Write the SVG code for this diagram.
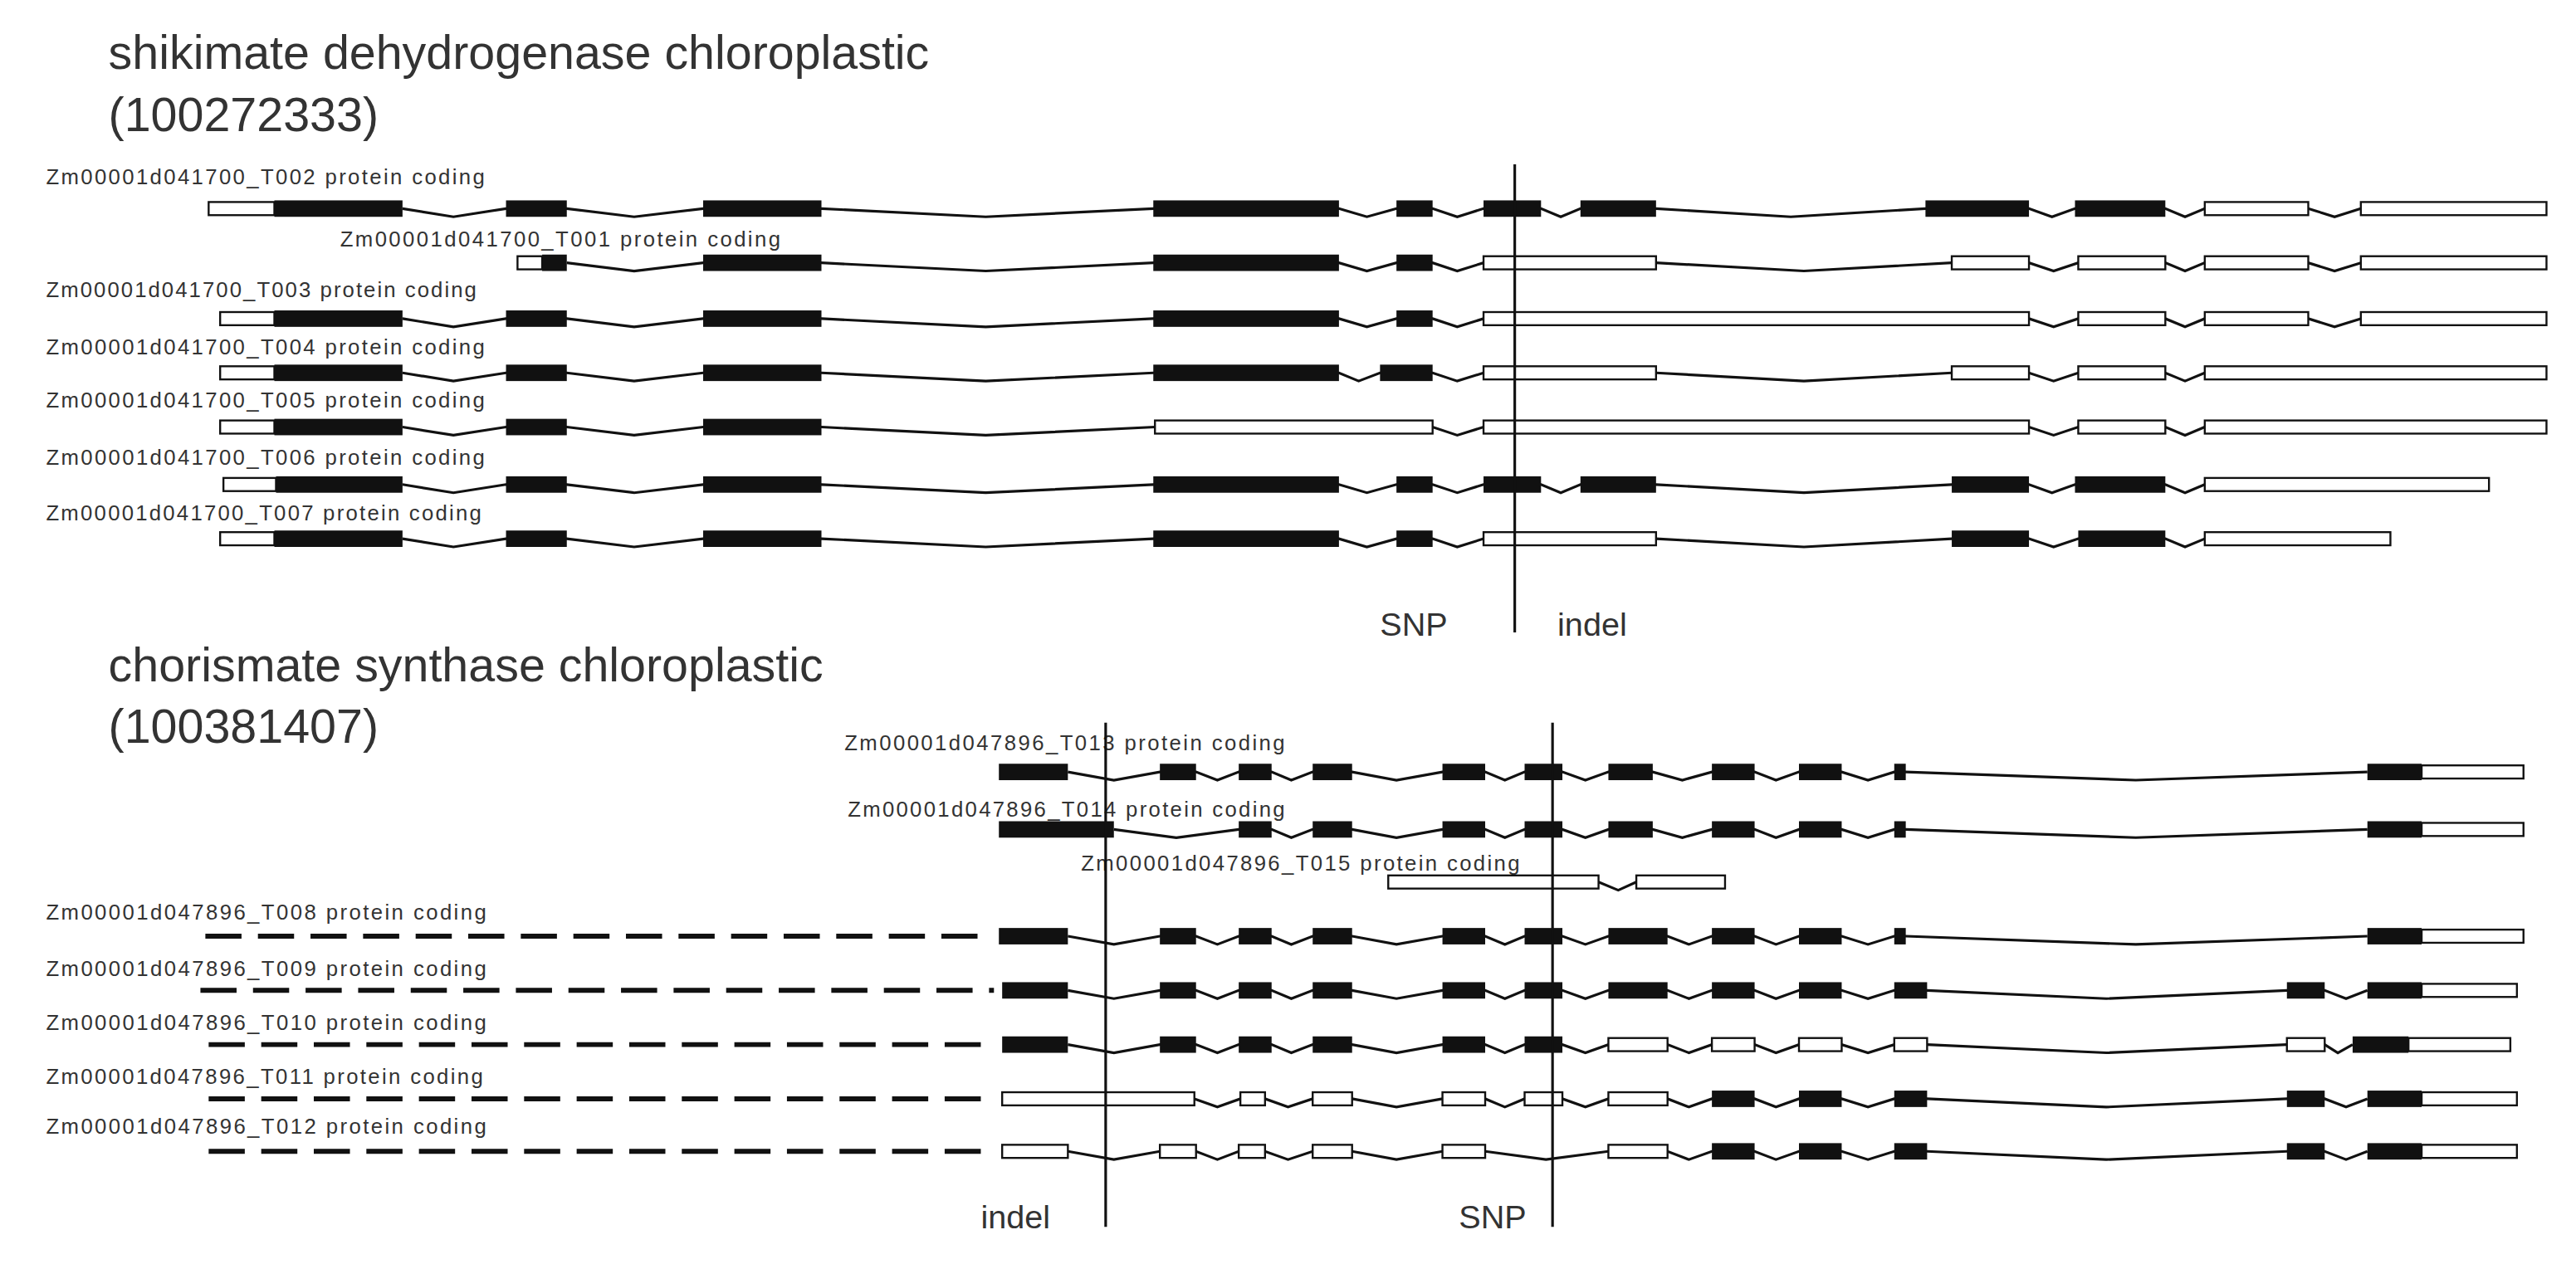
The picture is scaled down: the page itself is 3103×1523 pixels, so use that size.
<svg xmlns="http://www.w3.org/2000/svg" width="3103" height="1523" viewBox="0 0 3103 1523">
<style>
.c{fill:#111}
.u{fill:#fff;stroke:#111;stroke-width:1.2}
.i{fill:none;stroke:#111;stroke-width:1.6}
.d{fill:none;stroke:#111;stroke-width:3;stroke-dasharray:22 10}
.m{stroke:#111;stroke-width:1.6}
.lb{font-family:"Liberation Sans",Arial,sans-serif;font-size:13px;fill:#333}
.t{font-family:"Liberation Sans",Arial,sans-serif;font-size:29px;fill:#333}
.s{font-family:"Liberation Sans",Arial,sans-serif;font-size:20px;fill:#333}
</style>
<rect width="3103" height="1523" fill="#fff"/>
<g transform="scale(1.979)">
<g id="titles">
<text class="t" x="66" y="42">shikimate dehydrogenase chloroplastic</text>
<text class="t" x="66" y="80">(100272333)</text>
<text class="t" x="66" y="415">chorismate synthase chloroplastic</text>
<text class="t" x="66" y="452">(100381407)</text>
</g>
<g id="T002">
<text class="lb" x="28" y="112" textLength="267">Zm00001d041700_T002 protein coding</text>
<polyline class="i" points="245,127 276,132 308,127 345,127 386,132 428,127 500,127 600,132 702,127 815,127 832,132 850,127 872,127 887,132 903,127 938,127 950,132 962,127 1008,127 1090,132 1172,127 1235,127 1249,132 1263,127 1318,127 1330,132 1342,127 1405,127 1421,132 1437,127"/>
<rect class="u" x="127" y="123" width="40" height="8"/><rect class="c" x="167" y="122" width="78" height="10"/><rect class="c" x="308" y="122" width="37" height="10"/><rect class="c" x="428" y="122" width="72" height="10"/><rect class="c" x="702" y="122" width="113" height="10"/><rect class="c" x="850" y="122" width="22" height="10"/><rect class="c" x="903" y="122" width="35" height="10"/><rect class="c" x="962" y="122" width="46" height="10"/><rect class="c" x="1172" y="122" width="63" height="10"/><rect class="c" x="1263" y="122" width="55" height="10"/><rect class="u" x="1342" y="123" width="63" height="8"/><rect class="u" x="1437" y="123" width="113" height="8"/>
</g>
<g id="T001">
<text class="lb" x="207" y="150" textLength="268">Zm00001d041700_T001 protein coding</text>
<polyline class="i" points="345,160 386,165 428,160 500,160 600,165 702,160 815,160 832,165 850,160 872,160 887,165 903,160 1008,160 1098,165 1188,160 1235,160 1250,165 1265,160 1318,160 1330,165 1342,160 1405,160 1421,165 1437,160"/>
<rect class="u" x="315" y="156" width="15" height="8"/><rect class="c" x="330" y="155" width="15" height="10"/><rect class="c" x="428" y="155" width="72" height="10"/><rect class="c" x="702" y="155" width="113" height="10"/><rect class="c" x="850" y="155" width="22" height="10"/><rect class="u" x="903" y="156" width="105" height="8"/><rect class="u" x="1188" y="156" width="47" height="8"/><rect class="u" x="1265" y="156" width="53" height="8"/><rect class="u" x="1342" y="156" width="63" height="8"/><rect class="u" x="1437" y="156" width="113" height="8"/>
</g>
<g id="T003">
<text class="lb" x="28" y="181" textLength="262">Zm00001d041700_T003 protein coding</text>
<polyline class="i" points="245,194 276,199 308,194 345,194 386,199 428,194 500,194 600,199 702,194 815,194 832,199 850,194 872,194 887,199 903,194 1235,194 1250,199 1265,194 1318,194 1330,199 1342,194 1405,194 1421,199 1437,194"/>
<rect class="u" x="134" y="190" width="33" height="8"/><rect class="c" x="167" y="189" width="78" height="10"/><rect class="c" x="308" y="189" width="37" height="10"/><rect class="c" x="428" y="189" width="72" height="10"/><rect class="c" x="702" y="189" width="113" height="10"/><rect class="c" x="850" y="189" width="22" height="10"/><rect class="u" x="903" y="190" width="332" height="8"/><rect class="u" x="1265" y="190" width="53" height="8"/><rect class="u" x="1342" y="190" width="63" height="8"/><rect class="u" x="1437" y="190" width="113" height="8"/>
</g>
<g id="T004">
<text class="lb" x="28" y="216" textLength="267">Zm00001d041700_T004 protein coding</text>
<polyline class="i" points="245,227 276,232 308,227 345,227 386,232 428,227 500,227 600,232 702,227 815,227 827,232 840,227 872,227 887,232 903,227 1008,227 1098,232 1188,227 1235,227 1250,232 1265,227 1318,227 1330,232 1342,227"/>
<rect class="u" x="134" y="223" width="33" height="8"/><rect class="c" x="167" y="222" width="78" height="10"/><rect class="c" x="308" y="222" width="37" height="10"/><rect class="c" x="428" y="222" width="72" height="10"/><rect class="c" x="702" y="222" width="113" height="10"/><rect class="c" x="840" y="222" width="32" height="10"/><rect class="u" x="903" y="223" width="105" height="8"/><rect class="u" x="1188" y="223" width="47" height="8"/><rect class="u" x="1265" y="223" width="53" height="8"/><rect class="u" x="1342" y="223" width="208" height="8"/>
</g>
<g id="T005">
<text class="lb" x="28" y="248" textLength="267">Zm00001d041700_T005 protein coding</text>
<polyline class="i" points="245,260 276,265 308,260 345,260 386,265 428,260 500,260 600,265 703,260 872,260 887,265 903,260 1235,260 1250,265 1265,260 1318,260 1330,265 1342,260"/>
<rect class="u" x="134" y="256" width="33" height="8"/><rect class="c" x="167" y="255" width="78" height="10"/><rect class="c" x="308" y="255" width="37" height="10"/><rect class="c" x="428" y="255" width="72" height="10"/><rect class="u" x="703" y="256" width="169" height="8"/><rect class="u" x="903" y="256" width="332" height="8"/><rect class="u" x="1265" y="256" width="53" height="8"/><rect class="u" x="1342" y="256" width="208" height="8"/>
</g>
<g id="T006">
<text class="lb" x="28" y="283" textLength="267">Zm00001d041700_T006 protein coding</text>
<polyline class="i" points="245,295 276,300 308,295 345,295 386,300 428,295 500,295 600,300 702,295 815,295 832,300 850,295 872,295 887,300 903,295 938,295 950,300 962,295 1008,295 1098,300 1188,295 1235,295 1249,300 1263,295 1318,295 1330,300 1342,295"/>
<rect class="u" x="136" y="291" width="32" height="8"/><rect class="c" x="168" y="290" width="77" height="10"/><rect class="c" x="308" y="290" width="37" height="10"/><rect class="c" x="428" y="290" width="72" height="10"/><rect class="c" x="702" y="290" width="113" height="10"/><rect class="c" x="850" y="290" width="22" height="10"/><rect class="c" x="903" y="290" width="35" height="10"/><rect class="c" x="962" y="290" width="46" height="10"/><rect class="c" x="1188" y="290" width="47" height="10"/><rect class="c" x="1263" y="290" width="55" height="10"/><rect class="u" x="1342" y="291" width="173" height="8"/>
</g>
<g id="T007">
<text class="lb" x="28" y="317" textLength="265">Zm00001d041700_T007 protein coding</text>
<polyline class="i" points="245,328 276,333 308,328 345,328 386,333 428,328 500,328 600,333 702,328 815,328 832,333 850,328 872,328 887,333 903,328 1008,328 1098,333 1188,328 1235,328 1250,333 1265,328 1318,328 1330,333 1342,328"/>
<rect class="u" x="134" y="324" width="33" height="8"/><rect class="c" x="167" y="323" width="78" height="10"/><rect class="c" x="308" y="323" width="37" height="10"/><rect class="c" x="428" y="323" width="72" height="10"/><rect class="c" x="702" y="323" width="113" height="10"/><rect class="c" x="850" y="323" width="22" height="10"/><rect class="u" x="903" y="324" width="105" height="8"/><rect class="c" x="1188" y="323" width="47" height="10"/><rect class="c" x="1265" y="323" width="53" height="10"/><rect class="u" x="1342" y="324" width="113" height="8"/>
</g>
<g id="marker1">
<line class="m" x1="922" y1="100" x2="922" y2="385"/>
<text class="s" x="840" y="387">SNP</text>
<text class="s" x="948" y="387">indel</text>
</g>
<g id="T013">
<text class="lb" x="514" y="457" textLength="268">Zm00001d047896_T013 protein coding</text>
<polyline class="i" points="650,470 678,475 706,470 728,470 741,475 754,470 774,470 786,475 799,470 823,470 850,475 878,470 904,470 916,475 928,470 951,470 965,475 979,470 1006,470 1024,475 1042,470 1068,470 1081,475 1095,470 1121,470 1137,475 1153,470 1160,470 1300,475 1441,470"/>
<rect class="c" x="608" y="465" width="42" height="10"/><rect class="c" x="706" y="465" width="22" height="10"/><rect class="c" x="754" y="465" width="20" height="10"/><rect class="c" x="799" y="465" width="24" height="10"/><rect class="c" x="878" y="465" width="26" height="10"/><rect class="c" x="928" y="465" width="23" height="10"/><rect class="c" x="979" y="465" width="27" height="10"/><rect class="c" x="1042" y="465" width="26" height="10"/><rect class="c" x="1095" y="465" width="26" height="10"/><rect class="c" x="1153" y="465" width="7" height="10"/><rect class="c" x="1441" y="465" width="33" height="10"/><rect class="u" x="1474" y="466" width="62" height="8"/>
</g>
<g id="T014">
<text class="lb" x="516" y="497" textLength="266">Zm00001d047896_T014 protein coding</text>
<polyline class="i" points="678,505 716,510 754,505 774,505 786,510 799,505 823,505 850,510 878,505 904,505 916,510 928,505 951,505 965,510 979,505 1006,505 1024,510 1042,505 1068,505 1081,510 1095,505 1121,505 1137,510 1153,505 1160,505 1300,510 1441,505"/>
<rect class="c" x="608" y="500" width="70" height="10"/><rect class="c" x="754" y="500" width="20" height="10"/><rect class="c" x="799" y="500" width="24" height="10"/><rect class="c" x="878" y="500" width="26" height="10"/><rect class="c" x="928" y="500" width="23" height="10"/><rect class="c" x="979" y="500" width="27" height="10"/><rect class="c" x="1042" y="500" width="26" height="10"/><rect class="c" x="1095" y="500" width="26" height="10"/><rect class="c" x="1153" y="500" width="7" height="10"/><rect class="c" x="1441" y="500" width="33" height="10"/><rect class="u" x="1474" y="501" width="62" height="8"/>
</g>
<g id="T015">
<text class="lb" x="658" y="530" textLength="267">Zm00001d047896_T015 protein coding</text>
<polyline class="i" points="973,537 985,542 996,537"/>
<rect class="u" x="845" y="533" width="128" height="8"/><rect class="u" x="996" y="533" width="54" height="8"/>
</g>
<g id="T008">
<text class="lb" x="28" y="560" textLength="268">Zm00001d047896_T008 protein coding</text>
<line class="d" x1="125" y1="570" x2="605" y2="570"/>
<polyline class="i" points="650,570 678,575 706,570 728,570 741,575 754,570 774,570 786,575 799,570 823,570 850,575 878,570 904,570 916,575 928,570 951,570 965,575 979,570 1015,570 1028,575 1042,570 1068,570 1081,575 1095,570 1121,570 1137,575 1153,570 1160,570 1300,575 1441,570"/>
<rect class="c" x="608" y="565" width="42" height="10"/><rect class="c" x="706" y="565" width="22" height="10"/><rect class="c" x="754" y="565" width="20" height="10"/><rect class="c" x="799" y="565" width="24" height="10"/><rect class="c" x="878" y="565" width="26" height="10"/><rect class="c" x="928" y="565" width="23" height="10"/><rect class="c" x="979" y="565" width="36" height="10"/><rect class="c" x="1042" y="565" width="26" height="10"/><rect class="c" x="1095" y="565" width="26" height="10"/><rect class="c" x="1153" y="565" width="7" height="10"/><rect class="c" x="1441" y="565" width="33" height="10"/><rect class="u" x="1474" y="566" width="62" height="8"/>
</g>
<g id="T009">
<text class="lb" x="28" y="594" textLength="268">Zm00001d047896_T009 protein coding</text>
<line class="d" x1="122" y1="603" x2="605" y2="603"/>
<polyline class="i" points="650,603 678,608 706,603 728,603 741,608 754,603 774,603 786,608 799,603 823,603 850,608 878,603 904,603 916,608 928,603 951,603 965,608 979,603 1015,603 1028,608 1042,603 1068,603 1081,608 1095,603 1121,603 1137,608 1153,603 1173,603 1282,608 1392,603 1415,603 1428,608 1441,603"/>
<rect class="c" x="610" y="598" width="40" height="10"/><rect class="c" x="706" y="598" width="22" height="10"/><rect class="c" x="754" y="598" width="20" height="10"/><rect class="c" x="799" y="598" width="24" height="10"/><rect class="c" x="878" y="598" width="26" height="10"/><rect class="c" x="928" y="598" width="23" height="10"/><rect class="c" x="979" y="598" width="36" height="10"/><rect class="c" x="1042" y="598" width="26" height="10"/><rect class="c" x="1095" y="598" width="26" height="10"/><rect class="c" x="1153" y="598" width="20" height="10"/><rect class="c" x="1392" y="598" width="23" height="10"/><rect class="c" x="1441" y="598" width="33" height="10"/><rect class="u" x="1474" y="599" width="58" height="8"/>
</g>
<g id="T010">
<text class="lb" x="28" y="627" textLength="268">Zm00001d047896_T010 protein coding</text>
<line class="d" x1="127" y1="636" x2="605" y2="636"/>
<polyline class="i" points="650,636 678,641 706,636 728,636 741,641 754,636 774,636 786,641 799,636 823,636 850,641 878,636 904,636 916,641 928,636 951,636 965,641 979,636 1015,636 1028,641 1042,636 1068,636 1081,641 1095,636 1121,636 1137,641 1153,636 1173,636 1282,641 1392,636 1415,636 1423,641 1432,636"/>
<rect class="c" x="610" y="631" width="40" height="10"/><rect class="c" x="706" y="631" width="22" height="10"/><rect class="c" x="754" y="631" width="20" height="10"/><rect class="c" x="799" y="631" width="24" height="10"/><rect class="c" x="878" y="631" width="26" height="10"/><rect class="c" x="928" y="631" width="23" height="10"/><rect class="u" x="979" y="632" width="36" height="8"/><rect class="u" x="1042" y="632" width="26" height="8"/><rect class="u" x="1095" y="632" width="26" height="8"/><rect class="u" x="1153" y="632" width="20" height="8"/><rect class="u" x="1392" y="632" width="23" height="8"/><rect class="c" x="1432" y="631" width="34" height="10"/><rect class="u" x="1466" y="632" width="62" height="8"/>
</g>
<g id="T011">
<text class="lb" x="28" y="660" textLength="266">Zm00001d047896_T011 protein coding</text>
<line class="d" x1="127" y1="669" x2="605" y2="669"/>
<polyline class="i" points="727,669 741,674 755,669 770,669 784,674 799,669 823,669 850,674 878,669 904,669 916,674 928,669 951,669 965,674 979,669 1015,669 1028,674 1042,669 1068,669 1081,674 1095,669 1121,669 1137,674 1153,669 1173,669 1282,674 1392,669 1415,669 1428,674 1441,669"/>
<rect class="u" x="610" y="665" width="117" height="8"/><rect class="u" x="755" y="665" width="15" height="8"/><rect class="u" x="799" y="665" width="24" height="8"/><rect class="u" x="878" y="665" width="26" height="8"/><rect class="u" x="928" y="665" width="23" height="8"/><rect class="u" x="979" y="665" width="36" height="8"/><rect class="c" x="1042" y="664" width="26" height="10"/><rect class="c" x="1095" y="664" width="26" height="10"/><rect class="c" x="1153" y="664" width="20" height="10"/><rect class="c" x="1392" y="664" width="23" height="10"/><rect class="c" x="1441" y="664" width="33" height="10"/><rect class="u" x="1474" y="665" width="58" height="8"/>
</g>
<g id="T012">
<text class="lb" x="28" y="690" textLength="268">Zm00001d047896_T012 protein coding</text>
<line class="d" x1="127" y1="701" x2="605" y2="701"/>
<polyline class="i" points="650,701 678,706 706,701 728,701 741,706 754,701 770,701 784,706 799,701 823,701 850,706 878,701 904,701 941,706 979,701 1015,701 1028,706 1042,701 1068,701 1081,706 1095,701 1121,701 1137,706 1153,701 1173,701 1282,706 1392,701 1415,701 1428,706 1441,701"/>
<rect class="u" x="610" y="697" width="40" height="8"/><rect class="u" x="706" y="697" width="22" height="8"/><rect class="u" x="754" y="697" width="16" height="8"/><rect class="u" x="799" y="697" width="24" height="8"/><rect class="u" x="878" y="697" width="26" height="8"/><rect class="u" x="979" y="697" width="36" height="8"/><rect class="c" x="1042" y="696" width="26" height="10"/><rect class="c" x="1095" y="696" width="26" height="10"/><rect class="c" x="1153" y="696" width="20" height="10"/><rect class="c" x="1392" y="696" width="23" height="10"/><rect class="c" x="1441" y="696" width="33" height="10"/><rect class="u" x="1474" y="697" width="58" height="8"/>
</g>
<g id="marker2">
<line class="m" x1="673" y1="440" x2="673" y2="747"/>
<line class="m" x1="945" y1="440" x2="945" y2="747"/>
<text class="s" x="597" y="748">indel</text>
<text class="s" x="888" y="748">SNP</text>
</g>
</g>
</svg>
